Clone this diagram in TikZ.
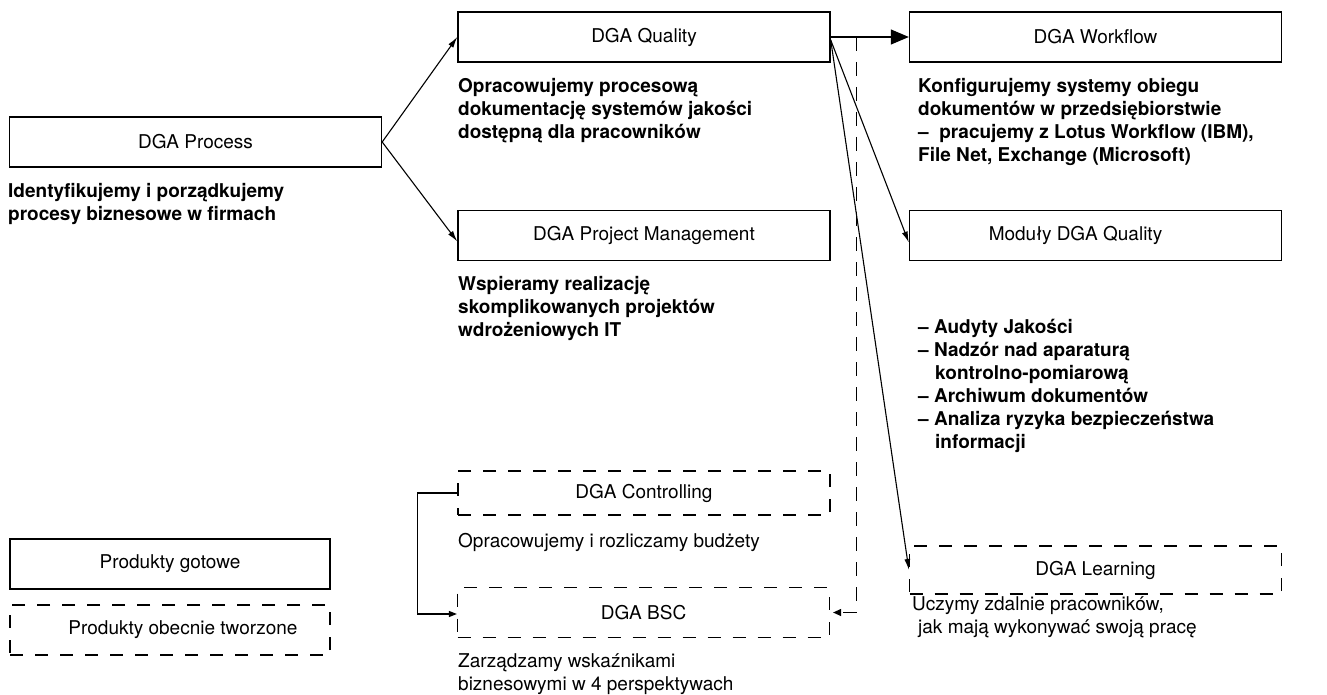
\documentclass[tikz,border=0pt]{standalone}
\usepackage{fontspec}
\setmainfont{TeX Gyre Heros}
\usetikzlibrary{arrows.meta,calc}
\begin{document}
\begin{tikzpicture}[x=1pt,y=-1pt,
  every node/.style={font=\fontsize{19}{23}\selectfont},
  box/.style={draw, line width=1.4pt, minimum width=372pt, minimum height=50pt, inner sep=0pt},
  dbox/.style={box, line width=1.2pt, dash pattern=on 13pt off 12pt},
  desc/.style={anchor=north west, align=left, inner sep=0pt, font=\fontsize{19}{23}\selectfont\bfseries},
  rdesc/.style={anchor=north west, align=left, inner sep=0pt, font=\fontsize{19}{23}\selectfont},
  fan/.style={line width=1.1pt, -{Latex[length=11pt,width=6pt]}},
  dconn/.style={line width=1.2pt, dash pattern=on 14pt off 11pt}
]
\useasboundingbox (0,0) rectangle (1327,695);

% boxes
\node[box] (proc) at (195.5,142) {DGA Process};
\node[box] (qual) at (644,37) {DGA Quality};
\node[box] (pm) at (644,235.5) {DGA Project Management};
\node[box] (wf) at (1095.5,37) {DGA Workflow};
\node[box] (mod) at (1095.5,235.5) {\hspace*{-40pt}Moduły DGA Quality};
\node[dbox, minimum height=44pt] (ctrl) at (644,493) {DGA Controlling};
\node[dbox] (bsc) at (643.5,612.5) {DGA BSC};
\node[dbox, minimum height=48pt] (learn) at (1095.5,570) {DGA Learning};
\node[box, minimum width=320pt] (got) at (170,564) {Produkty gotowe};
\node[dbox, minimum width=320pt] (obe) at (170,630) {\hspace*{26pt}Produkty obecnie tworzone};

% descriptions
\node[desc] (dproc) at (8,183) {Identyfikujemy i porządkujemy\\procesy biznesowe w firmach};
\node[desc] (dqual) at (458,78) {Opracowujemy procesową\\dokumentację systemów jakości\\dostępną dla pracowników};
\node[desc] (dpm) at (458,276) {Wspieramy realizację\\skomplikowanych projektów\\wdrożeniowych IT};
\node[desc] (dwf) at (918,78) {Konfigurujemy systemy obiegu\\dokumentów w przedsiębiorstwie\\–\ \ pracujemy z Lotus Workflow (IBM),\\File Net, Exchange (Microsoft)};
\node[desc] (dmod) at (918,319) {– Audyty Jakości\\– Nadzór nad aparaturą\\\hspace*{17pt}kontrolno-pomiarową\\– Archiwum dokumentów\\– Analiza ryzyka bezpieczeństwa\\\hspace*{17pt}informacji};
\node[rdesc] (dctrl) at (458,533) {Opracowujemy i rozliczamy budżety};
\node[rdesc] (dlearn) at (912,596) {Uczymy zdalnie pracowników,\\\hspace*{6pt}jak mają wykonywać swoją pracę};
\node[rdesc] (dbsc) at (458,653) {Zarządzamy wskaźnikami\\biznesowymi w 4 perspektywach};

% connectors
\draw[fan] (proc.east) -- (qual.west);
\draw[fan] (proc.east) -- ($(pm.west)+(0,6)$);
\coordinate (qout) at ($(qual.east)+(0,3)$);
\draw[fan] (qout) -- ($(mod.west)+(0,7)$);
\draw[fan] (qout) -- (learn.west);
\draw[line width=1.3pt, -{Triangle[length=18pt,width=15pt]}] (qual.east) -- (wf.west);
\coordinate (qtap) at ($(qual.east)!26pt!(wf.west)$);
\draw[dconn, shorten >=3pt, -{Triangle[length=8pt,width=7pt]}] (qtap) |- (bsc.east);
\draw[line width=1.1pt, -{Triangle[length=8pt,width=6pt]}] (ctrl.west) -- ++(-40,0) |- ($(bsc.west)+(0,1.5)$);
\end{tikzpicture}
\end{document}
